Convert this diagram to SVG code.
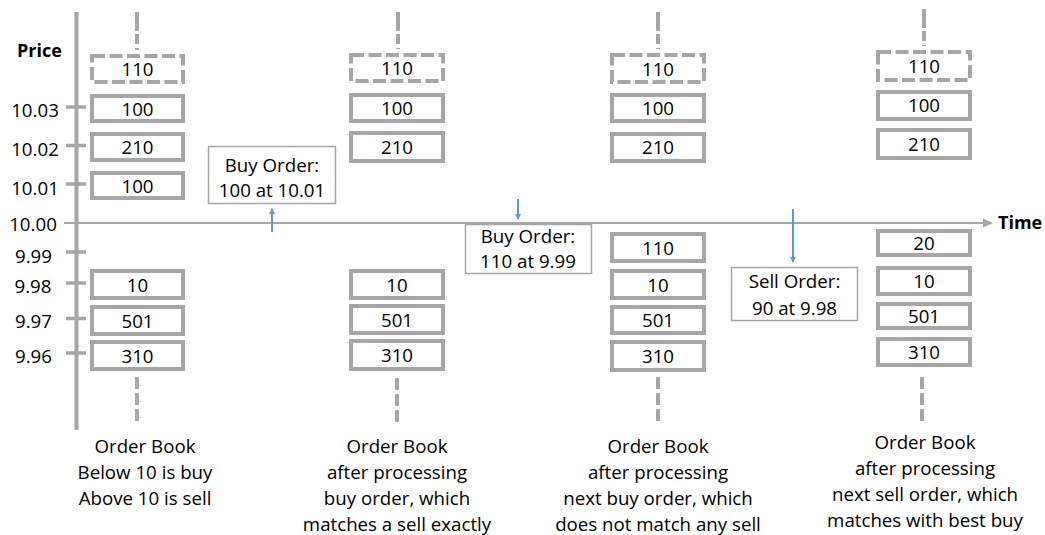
<svg xmlns="http://www.w3.org/2000/svg" width="1045" height="535" viewBox="0 0 1045 535">
<style>
  text { font-family: "Open Sans", "Liberation Sans", sans-serif; font-size: 18.7px; fill: #000; }
  .c { text-anchor: middle; }
  .b { font-weight: bold; font-size: 18px; }
  .box { fill: #fff; stroke: #a6a6a6; stroke-width: 4; }
  .dbox { fill: #fff; stroke: #a6a6a6; stroke-width: 4; stroke-dasharray: 13 4.5; }
  .axis { stroke: #a6a6a6; fill: none; }
  .tick { stroke: #a6a6a6; stroke-width: 3.5; }
  .dtop { stroke: #a6a6a6; stroke-width: 4; stroke-dasharray: 19 3 10 4; }
  .dbot { stroke: #a6a6a6; stroke-width: 4; stroke-dasharray: 12 4; }
  .obox { fill: #fff; stroke: #a6a6a6; stroke-width: 1.5; }
  .arr { stroke: #5b9bd5; stroke-width: 2; fill: none; }
</style>
<defs>
  <marker id="ah" markerWidth="8" markerHeight="8" refX="5" refY="3" orient="auto" markerUnits="userSpaceOnUse">
    <path d="M0,0 L6,3 L0,6 Z" fill="#5b9bd5"/>
  </marker>
</defs>

<g id="axes">
  <line class="axis" x1="76.5" y1="12" x2="76.5" y2="430" stroke-width="4"/>
  <line class="axis" x1="64" y1="223" x2="985" y2="223" stroke-width="2"/>
  <path d="M983,218.5 L993,223 L983,227.5 Z" fill="#a6a6a6"/>
  <line class="tick" x1="66" y1="107" x2="86" y2="107"/>
  <line class="tick" x1="66" y1="145.5" x2="86" y2="145.5"/>
  <line class="tick" x1="66" y1="184" x2="86" y2="184"/>
  <line class="tick" x1="66" y1="252" x2="86" y2="252"/>
  <line class="tick" x1="66" y1="283" x2="86" y2="283"/>
  <line class="tick" x1="66" y1="318.5" x2="86" y2="318.5"/>
  <line class="tick" x1="66" y1="353" x2="86" y2="353"/>
  <text class="b" x="17" y="57">Price</text>
  <text class="b" x="998" y="229">Time</text>
  <text class="c" x="35" y="117">10.03</text>
  <text class="c" x="35" y="156">10.02</text>
  <text class="c" x="35" y="195">10.01</text>
  <text class="c" x="33" y="231">10.00</text>
  <text class="c" x="33.5" y="263">9.99</text>
  <text class="c" x="33" y="293">9.98</text>
  <text class="c" x="33.5" y="328">9.97</text>
  <text class="c" x="33.5" y="363">9.96</text>
</g>

<g id="book1">
  <line class="dtop" x1="137" y1="12" x2="137" y2="50"/>
  <rect class="dbox" x="92" y="56" width="91" height="26"/><text class="c" x="137.5" y="76">110</text>
  <rect class="box" x="92" y="96" width="91" height="25"/><text class="c" x="137.5" y="116">100</text>
  <rect class="box" x="92" y="134" width="91" height="26"/><text class="c" x="137.5" y="154">210</text>
  <rect class="box" x="92" y="173" width="91" height="25"/><text class="c" x="137.5" y="193">100</text>
  <rect class="box" x="92" y="271" width="91" height="27"/><text class="c" x="137.5" y="292">10</text>
  <rect class="box" x="92" y="307" width="91" height="27"/><text class="c" x="137.5" y="328">501</text>
  <rect class="box" x="92" y="342" width="91" height="27"/><text class="c" x="137.5" y="363">310</text>
  <line class="dbot" x1="137" y1="377" x2="137" y2="425"/>
  <text class="c" x="145" y="453">Order Book</text>
  <text class="c" x="145" y="479">Below 10 is buy</text>
  <text class="c" x="145" y="505">Above 10 is sell</text>
</g>

<g id="book2">
  <line class="dtop" x1="398" y1="12" x2="398" y2="49"/>
  <rect class="dbox" x="351" y="55" width="92" height="26"/><text class="c" x="397" y="75">110</text>
  <rect class="box" x="351" y="95" width="92" height="26"/><text class="c" x="397" y="115">100</text>
  <rect class="box" x="351" y="133" width="92" height="28"/><text class="c" x="397" y="154">210</text>
  <rect class="box" x="351" y="271" width="92" height="27"/><text class="c" x="397" y="292">10</text>
  <rect class="box" x="351" y="306" width="92" height="27"/><text class="c" x="397" y="327">501</text>
  <rect class="box" x="351" y="341" width="92" height="28"/><text class="c" x="397" y="362">310</text>
  <line class="dbot" x1="397" y1="378" x2="397" y2="424"/>
  <text class="c" x="397" y="453">Order Book</text>
  <text class="c" x="397" y="479">after processing</text>
  <text class="c" x="397" y="505">buy order, which</text>
  <text class="c" x="397" y="531">matches a sell exactly</text>
</g>

<g id="book3">
  <line class="dtop" x1="658" y1="12" x2="658" y2="49"/>
  <rect class="dbox" x="612" y="55" width="92" height="27"/><text class="c" x="658" y="76">110</text>
  <rect class="box" x="612" y="95" width="92" height="26"/><text class="c" x="658" y="115">100</text>
  <rect class="box" x="612" y="134" width="92" height="27"/><text class="c" x="658" y="154">210</text>
  <rect class="box" x="612" y="234" width="92" height="27"/><text class="c" x="658" y="255">110</text>
  <rect class="box" x="612" y="271" width="92" height="27"/><text class="c" x="658" y="292">10</text>
  <rect class="box" x="612" y="307" width="92" height="26"/><text class="c" x="658" y="327">501</text>
  <rect class="box" x="612" y="342" width="92" height="28"/><text class="c" x="658" y="363">310</text>
  <line class="dbot" x1="658" y1="377" x2="658" y2="424"/>
  <text class="c" x="658" y="453">Order Book</text>
  <text class="c" x="658" y="479">after processing</text>
  <text class="c" x="658" y="505">next buy order, which</text>
  <text class="c" x="658" y="531">does not match any sell</text>
</g>

<g id="book4">
  <line class="dtop" x1="924" y1="9" x2="924" y2="46"/>
  <rect class="dbox" x="878" y="52" width="92" height="28"/><text class="c" x="924" y="73">110</text>
  <rect class="box" x="878" y="92" width="92" height="27"/><text class="c" x="924" y="112">100</text>
  <rect class="box" x="878" y="130" width="92" height="28"/><text class="c" x="924" y="151">210</text>
  <rect class="box" x="878" y="231" width="92" height="24"/><text class="c" x="924" y="250">20</text>
  <rect class="box" x="878" y="268" width="92" height="26"/><text class="c" x="924" y="288">10</text>
  <rect class="box" x="878" y="304" width="92" height="24"/><text class="c" x="924" y="323">501</text>
  <rect class="box" x="878" y="339" width="92" height="26"/><text class="c" x="924" y="359">310</text>
  <line class="dbot" x1="922" y1="377" x2="922" y2="422"/>
  <text class="c" x="925" y="449">Order Book</text>
  <text class="c" x="925" y="475">after processing</text>
  <text class="c" x="925" y="501">next sell order, which</text>
  <text class="c" x="925" y="527">matches with best buy</text>
</g>

<g id="order1">
  <rect class="obox" x="208.5" y="146.5" width="127" height="57"/>
  <text class="c" x="272" y="172">Buy Order:</text>
  <text class="c" x="272" y="197">100 at 10.01</text>
</g>
<g id="order2">
  <rect class="obox" x="465.5" y="224.5" width="126" height="49"/>
  <text class="c" x="528" y="243">Buy Order:</text>
  <text class="c" x="528" y="268">110 at 9.99</text>
</g>
<g id="order3">
  <rect class="obox" x="731.5" y="267.5" width="126" height="53"/>
  <text class="c" x="794.5" y="288">Sell Order:</text>
  <text class="c" x="794.5" y="315">90 at 9.98</text>
</g>

<g id="connectors">
  <line class="arr" x1="272" y1="232" x2="272" y2="209" marker-end="url(#ah)"/>
  <line class="arr" x1="518" y1="199" x2="518" y2="219" marker-end="url(#ah)"/>
  <line class="arr" x1="793" y1="209" x2="793" y2="262" marker-end="url(#ah)"/>
</g>
</svg>
